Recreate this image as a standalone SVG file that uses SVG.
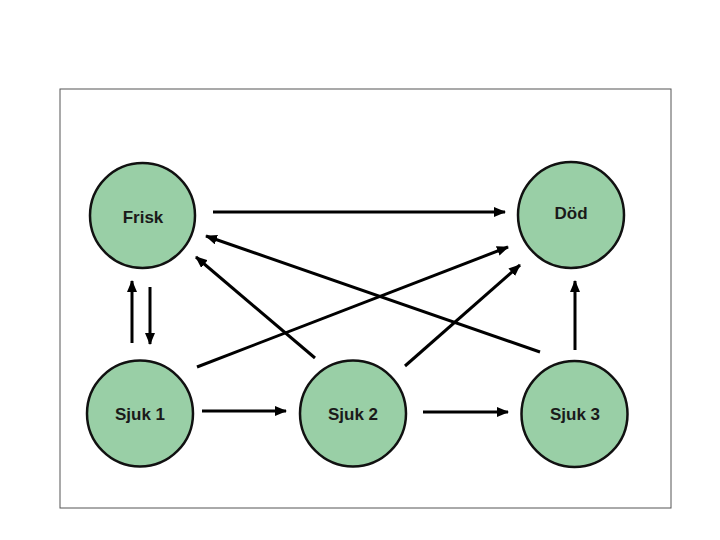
<svg xmlns="http://www.w3.org/2000/svg" width="720" height="540" viewBox="0 0 720 540">
<style>
.node circle{fill:#99cfa6;stroke:#111;stroke-width:2.5}
.node text{font-family:"Liberation Sans",Arial,sans-serif;font-weight:bold;font-size:17px;fill:#1a1a1a;text-anchor:middle;dominant-baseline:central}
.edge{stroke:#000;stroke-width:3;fill:none;marker-end:url(#ah)}
</style>
<defs>
<marker id="ah" markerUnits="userSpaceOnUse" markerWidth="12" markerHeight="10" refX="11" refY="5" orient="auto">
<path d="M0,0 L12,5 L0,10 Z" fill="#000"/>
</marker>
</defs>
<rect x="60" y="89" width="611" height="419" fill="#fff" stroke="#555" stroke-width="1"/>
<g id="connectors">
<line class="edge" x1="213" y1="212" x2="505" y2="212"/>
<line class="edge" x1="540" y1="352" x2="206" y2="236"/>
<line class="edge" x1="315" y1="358" x2="196" y2="257"/>
<line class="edge" x1="197" y1="367" x2="508" y2="247"/>
<line class="edge" x1="405" y1="366" x2="520" y2="265"/>
<line class="edge" x1="575" y1="350" x2="575" y2="281"/>
<line class="edge" x1="132" y1="343" x2="132" y2="281"/>
<line class="edge" x1="150" y1="287" x2="150" y2="344"/>
<line class="edge" x1="202" y1="411" x2="286" y2="411"/>
<line class="edge" x1="423" y1="412" x2="508" y2="412"/>
</g>
<g id="frisk" class="node"><circle cx="142.5" cy="215.5" r="52.5"/><text x="143" y="217">Frisk</text></g>
<g id="dod" class="node"><circle cx="571" cy="215" r="53"/><text x="571" y="213">Död</text></g>
<g id="sjuk1" class="node"><circle cx="140" cy="413.5" r="53"/><text x="140" y="414">Sjuk 1</text></g>
<g id="sjuk2" class="node"><circle cx="353" cy="413.5" r="53"/><text x="353" y="414">Sjuk 2</text></g>
<g id="sjuk3" class="node"><circle cx="574.5" cy="414" r="53"/><text x="575" y="414">Sjuk 3</text></g>
</svg>
